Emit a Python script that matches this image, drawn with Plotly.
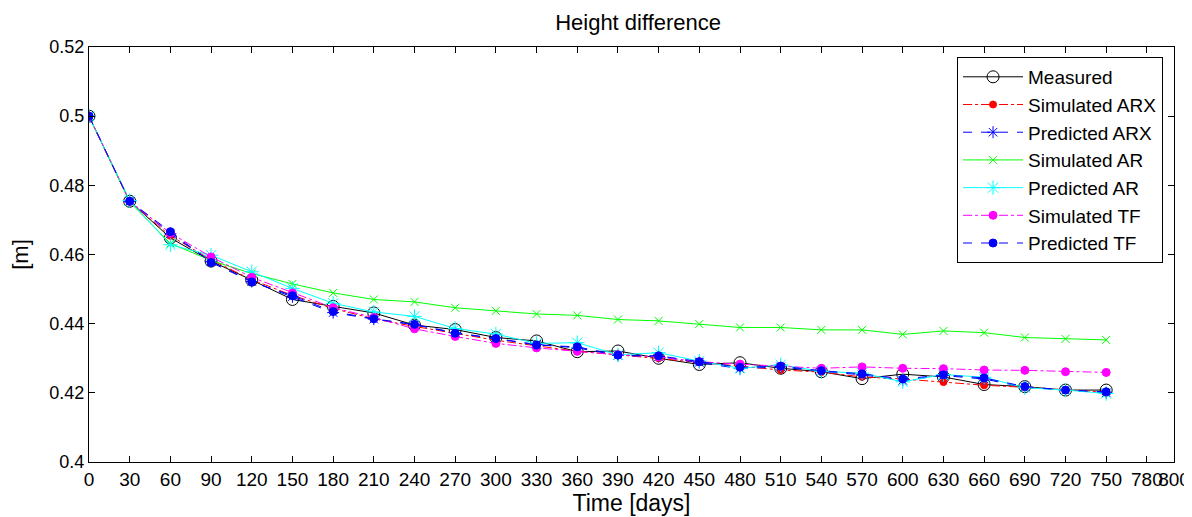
import plotly.graph_objects as go

days = list(range(0, 751, 30))

measured = [0.5, 0.4754, 0.4648, 0.4581, 0.4526, 0.4470, 0.4450, 0.4431, 0.4396, 0.4383,
            0.4360, 0.4350, 0.4319, 0.4321, 0.4300, 0.4282, 0.4287, 0.4271, 0.4261, 0.4241,
            0.4254, 0.4246, 0.4224, 0.4218, 0.4208, 0.4208]
sim_arx = [0.5, 0.4752, 0.4654, 0.4585, 0.4527, 0.4482, 0.4444, 0.4414, 0.4392, 0.4372,
           0.4352, 0.4336, 0.4320, 0.4310, 0.4300, 0.4288, 0.4277, 0.4266, 0.4260, 0.4246,
           0.4240, 0.4231, 0.4222, 0.4216, 0.4208, 0.4202]
pred_arx = [0.5, 0.4753, 0.4660, 0.4580, 0.4522, 0.4478, 0.4432, 0.4413, 0.4397, 0.4374,
            0.4358, 0.4340, 0.4330, 0.4308, 0.4305, 0.4288, 0.4270, 0.4275, 0.4262, 0.4252,
            0.4236, 0.4250, 0.4240, 0.4216, 0.4207, 0.4200]
sim_ar = [0.5, 0.4752, 0.4632, 0.4583, 0.4545, 0.4515, 0.4489, 0.4470, 0.4463, 0.4446,
          0.4437, 0.4428, 0.4424, 0.4412, 0.4408, 0.4399, 0.4389, 0.4389, 0.4382, 0.4382,
          0.4369, 0.4379, 0.4374, 0.4360, 0.4356, 0.4353]
pred_ar = [0.5, 0.4756, 0.4628, 0.4598, 0.4550, 0.4502, 0.4459, 0.4434, 0.4421, 0.4386,
           0.4370, 0.4343, 0.4345, 0.4310, 0.4316, 0.4292, 0.4271, 0.4281, 0.4262, 0.4257,
           0.4232, 0.4253, 0.4245, 0.4215, 0.4208, 0.4198]
sim_tf = [0.5, 0.4754, 0.4662, 0.4593, 0.4534, 0.4489, 0.4446, 0.4418, 0.4385, 0.4363,
          0.4343, 0.4330, 0.4320, 0.4310, 0.4304, 0.4290, 0.4283, 0.4277, 0.4271, 0.4275,
          0.4271, 0.4270, 0.4266, 0.4265, 0.4261, 0.4259]
pred_tf = [0.5, 0.4754, 0.4666, 0.4577, 0.4521, 0.4481, 0.4435, 0.4414, 0.4398, 0.4372,
           0.4357, 0.4338, 0.4333, 0.4309, 0.4307, 0.4290, 0.4274, 0.4277, 0.4264, 0.4255,
           0.4240, 0.4252, 0.4243, 0.4218, 0.4208, 0.4203]

x_tickvals = list(range(0, 781, 30)) + [800]
x_ticktext = [str(v) for v in x_tickvals]
y_tickvals = [0.4, 0.42, 0.44, 0.46, 0.48, 0.5, 0.52]
y_ticktext = ["0.4", "0.42", "0.44", "0.46", "0.48", "0.5", "0.52"]

series = [
    ("Measured", measured, "black", "solid", "circle-open", 12),
    ("Simulated ARX", sim_arx, "#FF0000", "dashdot", "circle", 7),
    ("Predicted ARX", pred_arx, "#0000FF", "dash", "asterisk-open", 10),
    ("Simulated AR", sim_ar, "#00FF00", "solid", "x-thin-open", 8),
    ("Predicted AR", pred_ar, "#00FFFF", "solid", "asterisk-open", 12),
    ("Simulated TF", sim_tf, "#FF00FF", "dashdot", "circle", 8),
    ("Predicted TF", pred_tf, "#0000FF", "dash", "circle", 8),
]

fig = go.Figure()
for name, vals, color, dash, symbol, size in series:
    fig.add_trace(go.Scatter(
        x=days, y=vals, name=name, mode="lines+markers",
        line=dict(color=color, width=1, dash=dash),
        marker=dict(symbol=symbol, size=size, color=color,
                    line=dict(color=color, width=1)),
    ))

font_family = "Liberation Sans, Arial, sans-serif"
narrow = "Liberation Sans Narrow, Arial Narrow, Liberation Sans, sans-serif"
fig.update_layout(
    width=1184, height=509,
    margin=dict(l=81, r=18, t=39, b=55),
    paper_bgcolor="white", plot_bgcolor="white",
    font=dict(family=font_family, size=18, color="black"),
    title=dict(text="Height difference", x=0.5322, xanchor="center",
               y=0.972, yanchor="middle", font=dict(size=22, color="black")),
    showlegend=True,
    legend=dict(x=0.9899, xanchor="right", y=0.976, yanchor="top",
                bgcolor="white", bordercolor="black", borderwidth=1,
                font=dict(size=19, color="black"), itemwidth=60,
                tracegroupgap=0),
    xaxis=dict(range=[-0.001, 800.001], tickmode="array", tickvals=x_tickvals, ticktext=x_ticktext,
               tickangle=0, automargin=False,
               ticks="inside", ticklen=6, tickcolor="black", showline=True, linecolor="black",
               linewidth=1, mirror="ticks", showgrid=False, zeroline=False,
               title=dict(text="Time [days]", font=dict(size=23, family=font_family), standoff=0),
               tickfont=dict(size=19, family=narrow)),
    yaxis=dict(range=[0.4, 0.52], tickmode="array", tickvals=y_tickvals, ticktext=y_ticktext,
               ticks="inside", ticklen=6, tickcolor="black", showline=True, linecolor="black",
               linewidth=1, mirror="ticks", showgrid=False, zeroline=False, automargin=False,
               title=dict(text="[m]", font=dict(size=22), standoff=22),
               tickfont=dict(size=18)),
)

fig.write_html("out.html")
